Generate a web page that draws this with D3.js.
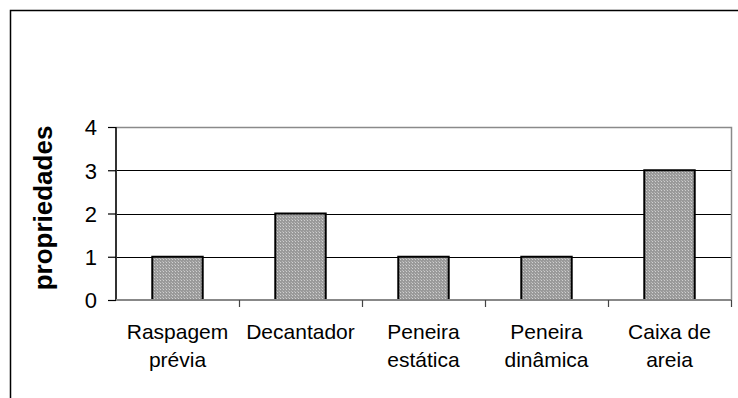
<!DOCTYPE html>
<html>
<head>
<meta charset="utf-8">
<script src="https://cdn.jsdelivr.net/npm/d3@7"></script>
<style>
  html, body { margin: 0; padding: 0; background: #fff; }
  svg { display: block; }
  text { font-family: "Liberation Sans", Arial, sans-serif; fill: #000; }
</style>
</head>
<body>
<svg id="chart" width="738" height="398"></svg>
<script>
// Number of properties using each treatment unit
const categories = ["Raspagem prévia", "Decantador", "Peneira estática", "Peneira dinâmica", "Caixa de areia"];
const categoryLines = [["Raspagem", "prévia"], ["Decantador"], ["Peneira", "estática"], ["Peneira", "dinâmica"], ["Caixa de", "areia"]];
const values = [1, 2, 1, 1, 3];
const yTicks = [0, 1, 2, 3, 4];
const yTitle = "propriedades";

const svg = d3.select("#chart");

// outer chart frame (extends past the window on the right and bottom)
svg.append("rect")
  .attr("x", 10.5).attr("y", 10.5)
  .attr("width", 760).attr("height", 420)
  .attr("fill", "none").attr("stroke", "#000").attr("stroke-width", 1.5);

const plot = { left: 116, right: 731, top: 127, bottom: 300 };

const x = d3.scaleBand()
  .domain(categories)
  .range([plot.left, plot.right])
  .paddingInner(0.59)
  .paddingOuter(0.295);

const xBand = d3.scaleBand().domain(categories).range([plot.left, plot.right]);

const y = d3.scaleLinear().domain([0, 4]).range([plot.bottom, plot.top]);

// bar fill: fine grey dot pattern
const defs = svg.append("defs");
const pat = defs.append("pattern")
  .attr("id", "dots").attr("patternUnits", "userSpaceOnUse")
  .attr("width", 3).attr("height", 3);
pat.append("rect").attr("width", 3).attr("height", 3).attr("fill", "#9a9a9a");
pat.append("rect").attr("x", 1).attr("y", 1).attr("width", 1).attr("height", 1).attr("fill", "#d0d0d0");
pat.append("rect").attr("x", 0).attr("y", 0).attr("width", 1).attr("height", 1).attr("fill", "#b8b8b8");

// horizontal gridlines
svg.append("g")
  .selectAll("line")
  .data(yTicks.filter(t => t > 0 && t < 4))
  .join("line")
  .attr("x1", plot.left).attr("x2", plot.right)
  .attr("y1", d => Math.round(y(d)) + 0.5).attr("y2", d => Math.round(y(d)) + 0.5)
  .attr("stroke", "#000").attr("stroke-width", 1);

// plot area border (top and right)
svg.append("path")
  .attr("d", `M${plot.left},${plot.top + 0.5}H${plot.right + 0.5}V${plot.bottom}`)
  .attr("fill", "none").attr("stroke", "#8a8a8a").attr("stroke-width", 1.5);

// bars
svg.append("g")
  .selectAll("rect")
  .data(values)
  .join("rect")
  .attr("x", (d, i) => x(categories[i]))
  .attr("y", d => y(d))
  .attr("width", x.bandwidth())
  .attr("height", d => y(0) - y(d))
  .attr("fill", "url(#dots)")
  .attr("stroke", "#000").attr("stroke-width", 2);

// y axis
const yAxis = d3.axisLeft(y).tickValues(yTicks).tickSize(8).tickPadding(11).tickFormat(d3.format("d"));
const gy = svg.append("g").attr("transform", `translate(${plot.left},0)`).call(yAxis);
gy.select(".domain").attr("stroke", "#333").attr("stroke-width", 2).attr("d", `M0,${plot.top}V${plot.bottom}`);
gy.selectAll(".tick line").attr("stroke", "#000").attr("stroke-width", 1.2);
gy.selectAll(".tick text")
  .attr("font-size", 22).attr("font-family", "Liberation Sans, Arial, sans-serif")
  .attr("fill", "#000").attr("dy", "0.36em");

// x axis with ticks at category boundaries
const gx = svg.append("g").attr("transform", `translate(0,${plot.bottom})`);
gx.append("line")
  .attr("x1", plot.left).attr("x2", plot.right + 1)
  .attr("stroke", "#888").attr("stroke-width", 2);
const boundaries = categories.map(c => xBand(c)).concat([plot.right]);
gx.selectAll("line.tk")
  .data(boundaries.slice(1))
  .join("line").attr("class", "tk")
  .attr("x1", d => d + 0.5).attr("x2", d => d + 0.5)
  .attr("y1", 0).attr("y2", 7)
  .attr("stroke", "#444").attr("stroke-width", 1.2);

// category labels
const labels = svg.append("g")
  .selectAll("text")
  .data(categoryLines)
  .join("text")
  .attr("text-anchor", "middle")
  .attr("font-size", 21)
  .attr("x", (d, i) => xBand(categories[i]) + xBand.bandwidth() / 2)
  .attr("y", 339);
labels.selectAll("tspan")
  .data(d => d)
  .join("tspan")
  .attr("x", function () { return this.parentNode.getAttribute("x"); })
  .attr("dy", (d, i) => i === 0 ? 0 : 28)
  .text(d => d);

// y axis title
svg.append("text")
  .attr("transform", `translate(52,208) rotate(-90)`)
  .attr("text-anchor", "middle")
  .attr("font-size", 26)
  .attr("font-weight", "bold")
  .text(yTitle);
</script>
</body>
</html>
